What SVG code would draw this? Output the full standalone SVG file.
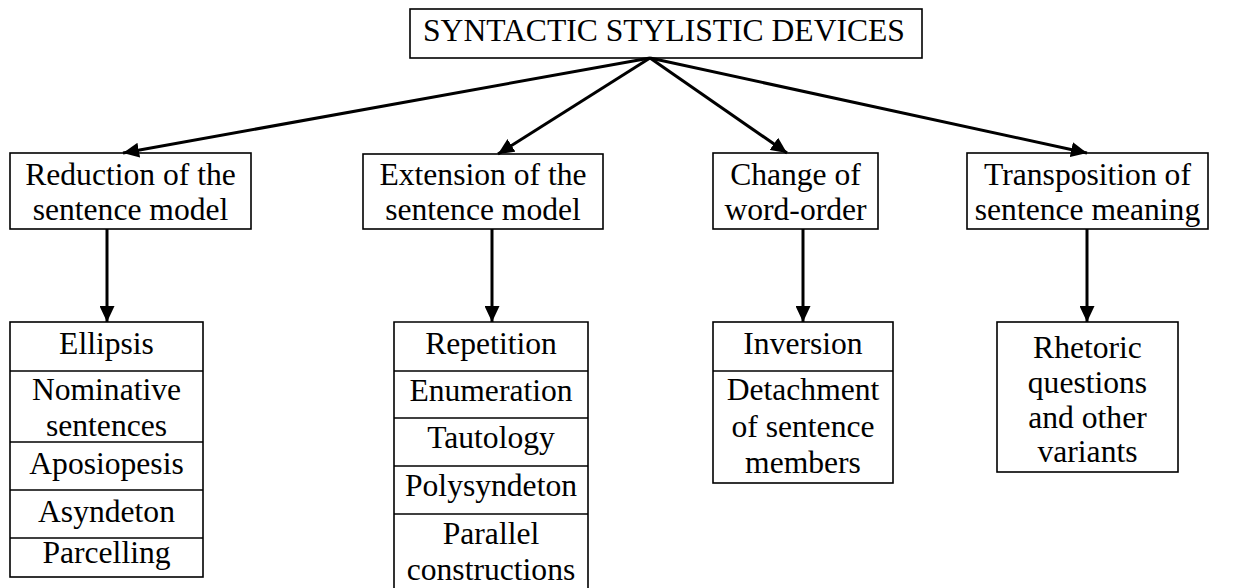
<svg xmlns="http://www.w3.org/2000/svg" width="1249" height="588" viewBox="0 0 1249 588">
  <style>
    .box { fill: #fff; stroke: #000; stroke-width: 1.6; }
    .sep { stroke: #000; stroke-width: 1.6; }
    .lbl { font-family: 'Liberation Serif', 'DejaVu Serif', serif; font-size: 31.6px; fill: #000; text-anchor: middle; }
    .edge { stroke: #000; stroke-width: 3; fill: none; marker-end: url(#head); }
  </style>
  <defs>
    <marker id="head" markerUnits="userSpaceOnUse" viewBox="0 0 16 15" refX="16" refY="7.5" markerWidth="16" markerHeight="15" orient="auto">
      <path d="M0,0 L16,7.5 L0,15 Z" fill="#000"/>
    </marker>
  </defs>
  <rect width="1249" height="588" fill="#fff"/>

  <!-- root -->
  <g id="root">
    <rect class="box" x="410" y="9" width="512" height="49"/>
    <text class="lbl" x="664" y="41">SYNTACTIC STYLISTIC DEVICES</text>
  </g>

  <!-- categories -->
  <g id="reduction">
    <rect class="box" x="10" y="153" width="241" height="76"/>
    <text class="lbl" x="130.5" y="185">Reduction of the</text>
    <text class="lbl" x="130.5" y="220">sentence model</text>
  </g>
  <g id="extension">
    <rect class="box" x="363" y="154" width="240" height="75"/>
    <text class="lbl" x="483" y="185">Extension of the</text>
    <text class="lbl" x="483" y="220">sentence model</text>
  </g>
  <g id="word-order">
    <rect class="box" x="713" y="153" width="165" height="76"/>
    <text class="lbl" x="795.5" y="185">Change of</text>
    <text class="lbl" x="795.5" y="220">word-order</text>
  </g>
  <g id="transposition">
    <rect class="box" x="967" y="153" width="241" height="76"/>
    <text class="lbl" x="1087.5" y="185">Transposition of</text>
    <text class="lbl" x="1087.5" y="220">sentence meaning</text>
  </g>

  <!-- device lists -->
  <g id="reduction-list">
    <rect class="box" x="10" y="322" width="193" height="255"/>
    <line class="sep" x1="10" y1="371" x2="203" y2="371"/>
    <line class="sep" x1="10" y1="442" x2="203" y2="442"/>
    <line class="sep" x1="10" y1="490" x2="203" y2="490"/>
    <line class="sep" x1="10" y1="538" x2="203" y2="538"/>
    <text class="lbl" x="106.5" y="354">Ellipsis</text>
    <text class="lbl" x="106.5" y="400">Nominative</text>
    <text class="lbl" x="106.5" y="436">sentences</text>
    <text class="lbl" x="106.5" y="474">Aposiopesis</text>
    <text class="lbl" x="106.5" y="522">Asyndeton</text>
    <text class="lbl" x="106.5" y="563">Parcelling</text>
  </g>
  <g id="extension-list">
    <path class="box" d="M394,590 V322 H588 V590"/>
    <line class="sep" x1="394" y1="371" x2="588" y2="371"/>
    <line class="sep" x1="394" y1="418" x2="588" y2="418"/>
    <line class="sep" x1="394" y1="466" x2="588" y2="466"/>
    <line class="sep" x1="394" y1="514" x2="588" y2="514"/>
    <text class="lbl" x="491" y="354">Repetition</text>
    <text class="lbl" x="491" y="401">Enumeration</text>
    <text class="lbl" x="491" y="448">Tautology</text>
    <text class="lbl" x="491" y="496">Polysyndeton</text>
    <text class="lbl" x="491" y="544">Parallel</text>
    <text class="lbl" x="491" y="580">constructions</text>
  </g>
  <g id="word-order-list">
    <rect class="box" x="713" y="322" width="180" height="161"/>
    <line class="sep" x1="713" y1="371" x2="893" y2="371"/>
    <text class="lbl" x="803" y="354">Inversion</text>
    <text class="lbl" x="803" y="400">Detachment</text>
    <text class="lbl" x="803" y="437">of sentence</text>
    <text class="lbl" x="803" y="473">members</text>
  </g>
  <g id="transposition-list">
    <rect class="box" x="997" y="322" width="181" height="150"/>
    <text class="lbl" x="1087.5" y="358">Rhetoric</text>
    <text class="lbl" x="1087.5" y="393">questions</text>
    <text class="lbl" x="1087.5" y="428">and other</text>
    <text class="lbl" x="1087.5" y="462">variants</text>
  </g>

  <!-- connectors -->
  <g id="connectors">
    <line class="edge" x1="650" y1="58" x2="123" y2="153"/>
    <line class="edge" x1="650" y1="58" x2="498" y2="154"/>
    <line class="edge" x1="650" y1="58" x2="787" y2="153"/>
    <line class="edge" x1="650" y1="58" x2="1087" y2="153"/>
    <line class="edge" x1="107" y1="229" x2="107" y2="322"/>
    <line class="edge" x1="492" y1="229" x2="492" y2="322"/>
    <line class="edge" x1="803" y1="229" x2="803" y2="322"/>
    <line class="edge" x1="1087" y1="229" x2="1087" y2="322"/>
  </g>
</svg>
